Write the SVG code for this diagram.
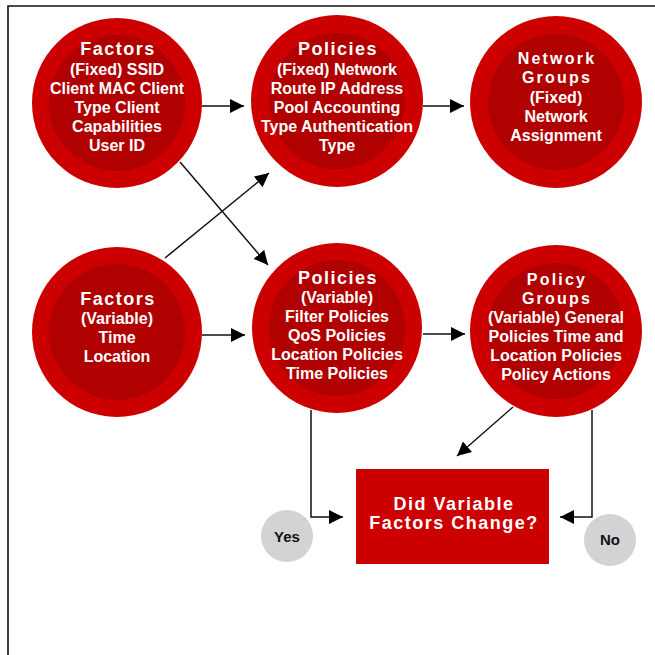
<svg xmlns="http://www.w3.org/2000/svg" width="655" height="655" viewBox="0 0 655 655">
<style>
.outer{fill:#cc0000}
.inner{fill:#b00000}
.t{font-family:"Liberation Sans",Arial,sans-serif;font-weight:bold;fill:#fff;text-anchor:middle}
.h{font-size:18px;letter-spacing:1.5px}
.h2{font-size:16px;letter-spacing:2.2px}
.b{font-size:16px}
.g{fill:#d3d3d3}
.d{font-family:"Liberation Sans",Arial,sans-serif;font-weight:bold;font-size:15px;fill:#111;text-anchor:middle}
.c{stroke:#111;stroke-width:1.5;fill:none}
</style>
<defs>
<marker id="ah" markerUnits="userSpaceOnUse" markerWidth="15" markerHeight="15" refX="14" refY="7" orient="auto">
<path d="M0,0 L14,7 L0,14 z" fill="#000"/>
</marker>
</defs>
<rect width="655" height="655" fill="#fff"/>
<path d="M8,655 L8,6 L655,6" fill="none" stroke="#111" stroke-width="1.6"/>

<g id="connectors">
<line class="c" x1="202" y1="106" x2="244" y2="106" marker-end="url(#ah)"/>
<line class="c" x1="423" y1="106" x2="464" y2="106" marker-end="url(#ah)"/>
<line class="c" x1="202" y1="335" x2="245" y2="335" marker-end="url(#ah)"/>
<line class="c" x1="423" y1="334" x2="465" y2="334" marker-end="url(#ah)"/>
<line class="c" x1="180" y1="162" x2="268" y2="265" marker-end="url(#ah)"/>
<line class="c" x1="165" y1="258" x2="269" y2="173" marker-end="url(#ah)"/>
<line class="c" x1="513" y1="407" x2="457" y2="456" marker-end="url(#ah)"/>
<polyline class="c" points="311,410 311,517 343,517" marker-end="url(#ah)"/>
<polyline class="c" points="592,410 592,517 560,517" marker-end="url(#ah)"/>
</g>

<g id="factors-fixed">
<circle class="outer" cx="117" cy="103" r="85"/>
<circle class="inner" cx="117" cy="103" r="68"/>
<text class="t h" x="118" y="55">Factors</text>
<text class="t b" x="117" y="75">(Fixed) SSID</text>
<text class="t b" x="117" y="94">Client MAC Client</text>
<text class="t b" x="117" y="113">Type Client</text>
<text class="t b" x="117" y="132">Capabilities</text>
<text class="t b" x="117" y="151">User ID</text>
</g>

<g id="policies-fixed">
<circle class="outer" cx="337" cy="101" r="86"/>
<circle class="inner" cx="337" cy="101" r="68"/>
<text class="t h" x="338" y="55">Policies</text>
<text class="t b" x="337" y="75">(Fixed) Network</text>
<text class="t b" x="337" y="94">Route IP Address</text>
<text class="t b" x="337" y="113">Pool Accounting</text>
<text class="t b" x="337" y="132">Type Authentication</text>
<text class="t b" x="337" y="151">Type</text>
</g>

<g id="network-groups">
<circle class="outer" cx="556" cy="102" r="86"/>
<circle class="inner" cx="556" cy="102" r="68"/>
<text class="t h2" x="557" y="64">Network</text>
<text class="t h2" x="557" y="83">Groups</text>
<text class="t b" x="556" y="103">(Fixed)</text>
<text class="t b" x="556" y="122">Network</text>
<text class="t b" x="556" y="141">Assignment</text>
</g>

<g id="factors-variable">
<circle class="outer" cx="117" cy="332" r="85"/>
<circle class="inner" cx="117" cy="332" r="68"/>
<text class="t h" x="118" y="305">Factors</text>
<text class="t b" x="117" y="324">(Variable)</text>
<text class="t b" x="117" y="343">Time</text>
<text class="t b" x="117" y="362">Location</text>
</g>

<g id="policies-variable">
<circle class="outer" cx="337" cy="328" r="85"/>
<circle class="inner" cx="337" cy="328" r="68"/>
<text class="t h" x="338" y="284">Policies</text>
<text class="t b" x="337" y="303">(Variable)</text>
<text class="t b" x="337" y="322">Filter Policies</text>
<text class="t b" x="337" y="341">QoS Policies</text>
<text class="t b" x="337" y="360">Location Policies</text>
<text class="t b" x="337" y="379">Time Policies</text>
</g>

<g id="policy-groups">
<circle class="outer" cx="556" cy="331" r="86"/>
<circle class="inner" cx="556" cy="331" r="68"/>
<text class="t h2" x="557" y="285">Policy</text>
<text class="t h2" x="557" y="304">Groups</text>
<text class="t b" x="556" y="323">(Variable) General</text>
<text class="t b" x="556" y="342">Policies Time and</text>
<text class="t b" x="556" y="361">Location Policies</text>
<text class="t b" x="556" y="380">Policy Actions</text>
</g>

<g id="decision">
<rect x="356" y="469" width="193" height="95" fill="#cc0000"/>
<text class="t h" x="454" y="510">Did Variable</text>
<text class="t h" x="454" y="529">Factors Change?</text>
</g>

<g id="yes">
<circle class="g" cx="287" cy="536" r="26"/>
<text class="d" x="287" y="542">Yes</text>
</g>

<g id="no">
<circle class="g" cx="610" cy="540" r="26"/>
<text class="d" x="610" y="545">No</text>
</g>
</svg>
